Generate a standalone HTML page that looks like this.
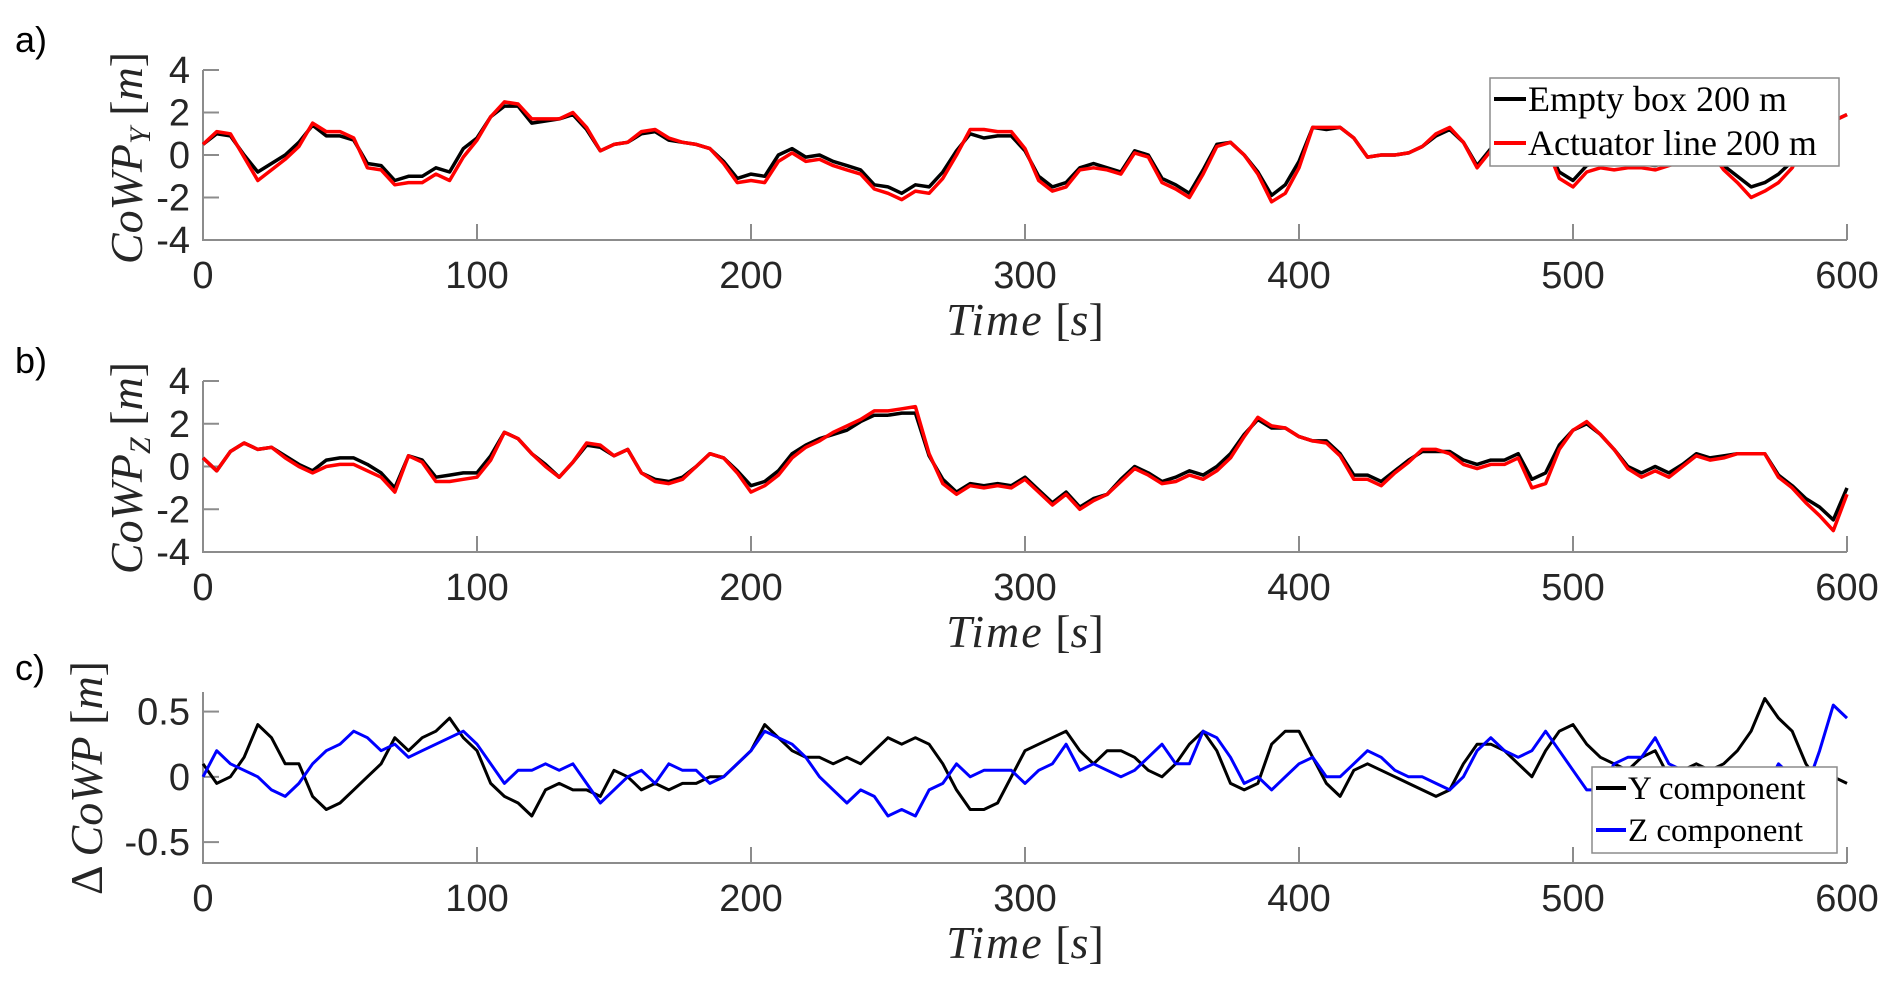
<!DOCTYPE html>
<html><head><meta charset="utf-8"><style>
html,body{margin:0;padding:0;background:#fff;}
svg{display:block;}
.tick{font-family:"Liberation Sans",Arial,sans-serif;font-size:38px;fill:#262626;}
.lab{font-family:"Liberation Serif",serif;font-size:46px;fill:#262626;}
.leg{font-family:"Liberation Serif",serif;fill:#000;}
.pl{font-family:"Liberation Sans",Arial,sans-serif;font-size:36px;fill:#000;}
</style></head><body>
<svg id="fig" width="1892" height="986" viewBox="0 0 1892 986" xmlns="http://www.w3.org/2000/svg">
<text class="pl" x="15" y="52">a)</text>
<text class="pl" x="15" y="373">b)</text>
<text class="pl" x="15" y="680">c)</text>
<text class="lab" font-size="50" transform="translate(142,158) rotate(-90)" text-anchor="middle"><tspan font-style="italic">CoWP</tspan><tspan font-style="italic" font-size="30" dy="8">Y</tspan><tspan dy="-8"> [</tspan><tspan font-style="italic">m</tspan><tspan>]</tspan></text>
<text class="lab" font-size="50" transform="translate(142,468) rotate(-90)" text-anchor="middle"><tspan font-style="italic">CoWP</tspan><tspan font-style="italic" font-size="30" dy="8">Z</tspan><tspan dy="-8"> [</tspan><tspan font-style="italic">m</tspan><tspan>]</tspan></text>
<text class="lab" font-size="50" transform="translate(102,778) rotate(-90)" text-anchor="middle">Δ <tspan font-style="italic">CoWP</tspan> [<tspan font-style="italic">m</tspan>]</text>
<g id="layer"></g>
</svg>
<script>
// time axis categories (s)
const times = [];
for (let i = 0; i <= 120; i++) times.push(i * 5);
const xTicks = [0, 100, 200, 300, 400, 500, 600];
const yTicksAB = [-4, -2, 0, 2, 4];
const yTicksC = [-0.5, 0, 0.5];
const yTickLabelsC = ["-0.5", "0", "0.5"];

const aEmpty = [0.5,1.0,0.9,0.0,-0.8,-0.4,0.0,0.6,1.4,0.9,
0.9,0.7,-0.4,-0.5,-1.2,-1.0,-1.0,-0.6,-0.8,0.3,
0.8,1.8,2.3,2.3,1.5,1.6,1.7,1.9,1.2,0.2,
0.5,0.6,1.0,1.1,0.7,0.6,0.5,0.3,-0.3,-1.1,
-0.9,-1.0,0.0,0.3,-0.1,0.0,-0.3,-0.5,-0.7,-1.4,
-1.5,-1.8,-1.4,-1.5,-0.8,0.2,1.0,0.8,0.9,0.9,
0.2,-1.0,-1.5,-1.3,-0.6,-0.4,-0.6,-0.8,0.2,0.0,
-1.1,-1.4,-1.8,-0.7,0.5,0.6,0.0,-0.8,-1.9,-1.4,
-0.3,1.3,1.2,1.3,0.8,-0.1,0.0,0.0,0.1,0.4,
0.9,1.2,0.6,-0.5,0.3,0.9,0.9,1.4,0.5,-0.8,
-1.2,-0.5,-0.3,-0.4,-0.4,-0.4,-0.5,-0.3,-0.1,0.3,
0.3,-0.5,-1.0,-1.5,-1.3,-0.9,-0.3,0.8,1.2,1.6,
1.9];
const aActuator = [0.5,1.1,1.0,-0.1,-1.2,-0.7,-0.2,0.4,1.5,1.1,
1.1,0.8,-0.6,-0.7,-1.4,-1.3,-1.3,-0.9,-1.2,-0.1,
0.7,1.8,2.5,2.4,1.7,1.7,1.7,2.0,1.3,0.2,
0.5,0.6,1.1,1.2,0.8,0.6,0.5,0.3,-0.4,-1.3,
-1.2,-1.3,-0.3,0.1,-0.3,-0.2,-0.5,-0.7,-0.9,-1.6,
-1.8,-2.1,-1.7,-1.8,-1.1,0.0,1.2,1.2,1.1,1.1,
0.3,-1.2,-1.7,-1.5,-0.7,-0.6,-0.7,-0.9,0.1,-0.1,
-1.3,-1.6,-2.0,-0.9,0.4,0.6,0.0,-0.9,-2.2,-1.8,
-0.6,1.3,1.3,1.3,0.8,-0.1,0.0,0.0,0.1,0.4,
1.0,1.3,0.6,-0.6,0.2,0.9,0.9,1.4,0.5,-1.1,
-1.5,-0.8,-0.6,-0.7,-0.6,-0.6,-0.7,-0.5,-0.3,0.2,
0.2,-0.7,-1.3,-2.0,-1.7,-1.3,-0.6,0.7,1.2,1.6,
1.9];
const bEmpty = [0.4,-0.2,0.7,1.1,0.8,0.9,0.5,0.1,-0.2,0.3,
0.4,0.4,0.1,-0.3,-1.0,0.5,0.3,-0.5,-0.4,-0.3,
-0.3,0.5,1.6,1.3,0.6,0.1,-0.5,0.2,1.0,0.9,
0.5,0.8,-0.3,-0.6,-0.7,-0.5,0.0,0.6,0.4,-0.2,
-0.9,-0.7,-0.2,0.6,1.0,1.3,1.5,1.7,2.1,2.4,
2.4,2.5,2.5,0.5,-0.6,-1.2,-0.8,-0.9,-0.8,-0.9,
-0.5,-1.1,-1.7,-1.2,-1.9,-1.5,-1.3,-0.6,0.0,-0.3,
-0.7,-0.5,-0.2,-0.4,0.0,0.6,1.5,2.2,1.8,1.8,
1.4,1.2,1.2,0.6,-0.4,-0.4,-0.7,-0.2,0.3,0.7,
0.7,0.7,0.3,0.1,0.3,0.3,0.6,-0.6,-0.3,1.0,
1.7,2.0,1.5,0.8,0.0,-0.3,0.0,-0.3,0.1,0.6,
0.4,0.5,0.6,0.6,0.6,-0.4,-0.9,-1.5,-1.9,-2.5,
-1.0];
const bActuator = [0.4,-0.2,0.7,1.1,0.8,0.9,0.4,0.0,-0.3,0.0,
0.1,0.1,-0.2,-0.5,-1.2,0.5,0.2,-0.7,-0.7,-0.6,
-0.5,0.3,1.6,1.3,0.6,0.0,-0.5,0.2,1.1,1.0,
0.5,0.8,-0.3,-0.7,-0.8,-0.6,0.0,0.6,0.4,-0.3,
-1.2,-0.9,-0.4,0.4,0.9,1.2,1.6,1.9,2.2,2.6,
2.6,2.7,2.8,0.6,-0.8,-1.3,-0.9,-1.0,-0.9,-1.0,
-0.6,-1.2,-1.8,-1.3,-2.0,-1.6,-1.3,-0.7,-0.1,-0.4,
-0.8,-0.7,-0.4,-0.6,-0.2,0.4,1.4,2.3,1.9,1.8,
1.4,1.2,1.1,0.5,-0.6,-0.6,-0.9,-0.3,0.2,0.8,
0.8,0.6,0.1,-0.1,0.1,0.1,0.4,-1.0,-0.8,0.8,
1.7,2.1,1.5,0.8,-0.1,-0.5,-0.2,-0.5,0.0,0.5,
0.3,0.4,0.6,0.6,0.6,-0.5,-1.0,-1.7,-2.3,-3.0,
-1.3];
const cY = [0.1,-0.05,0.0,0.15,0.4,0.3,0.1,0.1,-0.15,-0.25,
-0.2,-0.1,0.0,0.1,0.3,0.2,0.3,0.35,0.45,0.3,
0.2,-0.05,-0.15,-0.2,-0.3,-0.1,-0.05,-0.1,-0.1,-0.15,
0.05,0.0,-0.1,-0.05,-0.1,-0.05,-0.05,0.0,0.0,0.1,
0.2,0.4,0.3,0.2,0.15,0.15,0.1,0.15,0.1,0.2,
0.3,0.25,0.3,0.25,0.1,-0.1,-0.25,-0.25,-0.2,0.0,
0.2,0.25,0.3,0.35,0.2,0.1,0.2,0.2,0.15,0.05,
0.0,0.1,0.25,0.35,0.2,-0.05,-0.1,-0.05,0.25,0.35,
0.35,0.15,-0.05,-0.15,0.05,0.1,0.05,0.0,-0.05,-0.1,
-0.15,-0.1,0.1,0.25,0.25,0.2,0.1,0.0,0.2,0.35,
0.4,0.25,0.15,0.1,0.05,0.15,0.2,0.0,0.05,0.1,
0.05,0.1,0.2,0.35,0.6,0.45,0.35,0.1,-0.05,0.0,
-0.05];
const cZ = [0.0,0.2,0.1,0.05,0.0,-0.1,-0.15,-0.05,0.1,0.2,
0.25,0.35,0.3,0.2,0.25,0.15,0.2,0.25,0.3,0.35,
0.25,0.1,-0.05,0.05,0.05,0.1,0.05,0.1,-0.05,-0.2,
-0.1,0.0,0.05,-0.05,0.1,0.05,0.05,-0.05,0.0,0.1,
0.2,0.35,0.3,0.25,0.15,0.0,-0.1,-0.2,-0.1,-0.15,
-0.3,-0.25,-0.3,-0.1,-0.05,0.1,0.0,0.05,0.05,0.05,
-0.05,0.05,0.1,0.25,0.05,0.1,0.05,0.0,0.05,0.15,
0.25,0.1,0.1,0.35,0.3,0.15,-0.05,0.0,-0.1,0.0,
0.1,0.15,0.0,0.0,0.1,0.2,0.15,0.05,0.0,0.0,
-0.05,-0.1,0.0,0.2,0.3,0.2,0.15,0.2,0.35,0.2,
0.05,-0.1,-0.1,0.1,0.15,0.15,0.3,0.1,0.05,0.0,
0.0,0.0,-0.1,-0.15,-0.1,0.1,0.0,-0.1,0.2,0.55,
0.45];

const NS = "http://www.w3.org/2000/svg";
const layer = document.getElementById('layer');
const X0 = 203, X1 = 1847;
function xs(t){ return X0 + (t/600)*(X1-X0); }
function mk(tag, attrs, parent){
  const e = document.createElementNS(NS, tag);
  for (const k in attrs) e.setAttribute(k, attrs[k]);
  (parent||layer).appendChild(e);
  return e;
}

function panel(key, top, bot, ymin, ymax, yticks, ylabels, series, legend){
  const g = mk('g', {});
  
  
  const ys = v => bot - (v - ymin)/(ymax - ymin)*(bot - top);
  const ax = mk('path', {d:`M${X0},${top} L${X0},${bot} L${X1},${bot}`, fill:'none', stroke:'#8c8c8c', 'stroke-width':2}, g);
  
  
  xTicks.forEach(t => {
    const x = xs(t);
    const tk = mk('line', {x1:x, x2:x, y1:bot, y2:bot-16, stroke:'#8c8c8c', 'stroke-width':2}, g);
    
    
    const lb = mk('text', {x:x, y:bot+48, 'text-anchor':'middle', class:'tick'}, g);
    lb.textContent = t;
    
    
  });
  yticks.forEach((v, i) => {
    const y = ys(v);
    const tk = mk('line', {x1:X0, x2:X0+16, y1:y, y2:y, stroke:'#8c8c8c', 'stroke-width':2}, g);
    
    
    const lb = mk('text', {x:190, y:y+13, 'text-anchor':'end', class:'tick'}, g);
    lb.textContent = ylabels[i];
    
    
  });
  const xl = mk('text', {x:1025, y:bot+95, 'text-anchor':'middle', class:'lab'}, g);
  xl.innerHTML = '<tspan font-style="italic" letter-spacing="2">Time</tspan> [<tspan font-style="italic">s</tspan>]';
  
  
  series.forEach(s => {
    let d = '';
    const n = Math.min(times.length, s.vals.length);
    for (let i = 0; i < n; i++) d += (i ? 'L' : 'M') + xs(times[i]).toFixed(1) + ',' + ys(s.vals[i]).toFixed(1);
    const p = mk('path', {d:d, fill:'none', stroke:s.color, 'stroke-width':s.w, 'stroke-linejoin':'round'}, g);
    
    
  });
  if (legend){
    const lg = mk('g', {}, g);
    
    
    mk('rect', {x:legend.x, y:legend.y, width:legend.w, height:legend.h, fill:'#fff', stroke:'#8c8c8c', 'stroke-width':1.5}, lg);
    legend.items.forEach((it, i) => {
      const cy = legend.y + legend.r0 + i*legend.dr;
      const e = mk('g', {}, lg);
      
      
      mk('line', {x1:legend.x+4, x2:legend.x+legend.lw, y1:cy, y2:cy, stroke:it.color, 'stroke-width':4}, e);
      const t = mk('text', {x:legend.x+legend.lw+2, y:cy+legend.fs*0.33, class:'leg', 'font-size':legend.fs}, e);
      t.textContent = it.label;
    });
  }
}

panel('a', 70, 240, -4, 4, yTicksAB, ["-4","-2","0","2","4"], [
  {vals:aEmpty, color:'#000', w:3.5, name:'line-empty-box-a'},
  {vals:aActuator, color:'#ff0000', w:3.5, name:'line-actuator-line-a'}
], {x:1490, y:78, w:349, h:88, r0:21, dr:44, lw:36, fs:36, items:[
  {label:'Empty box 200 m', color:'#000'}, {label:'Actuator line 200 m', color:'#ff0000'}]});

panel('b', 381, 552, -4, 4, yTicksAB, ["-4","-2","0","2","4"], [
  {vals:bEmpty, color:'#000', w:3.5, name:'line-empty-box-b'},
  {vals:bActuator, color:'#ff0000', w:3.5, name:'line-actuator-line-b'}
], null);

panel('c', 692, 863, -0.66, 0.65, yTicksC, yTickLabelsC, [
  {vals:cY, color:'#000', w:3, name:'line-y-component'},
  {vals:cZ, color:'#0000ff', w:3, name:'line-z-component'}
], {x:1592, y:767, w:245, h:86, r0:21, dr:42, lw:34, fs:33, items:[
  {label:'Y component', color:'#000'}, {label:'Z component', color:'#0000ff'}]});
</script>
</body></html>
